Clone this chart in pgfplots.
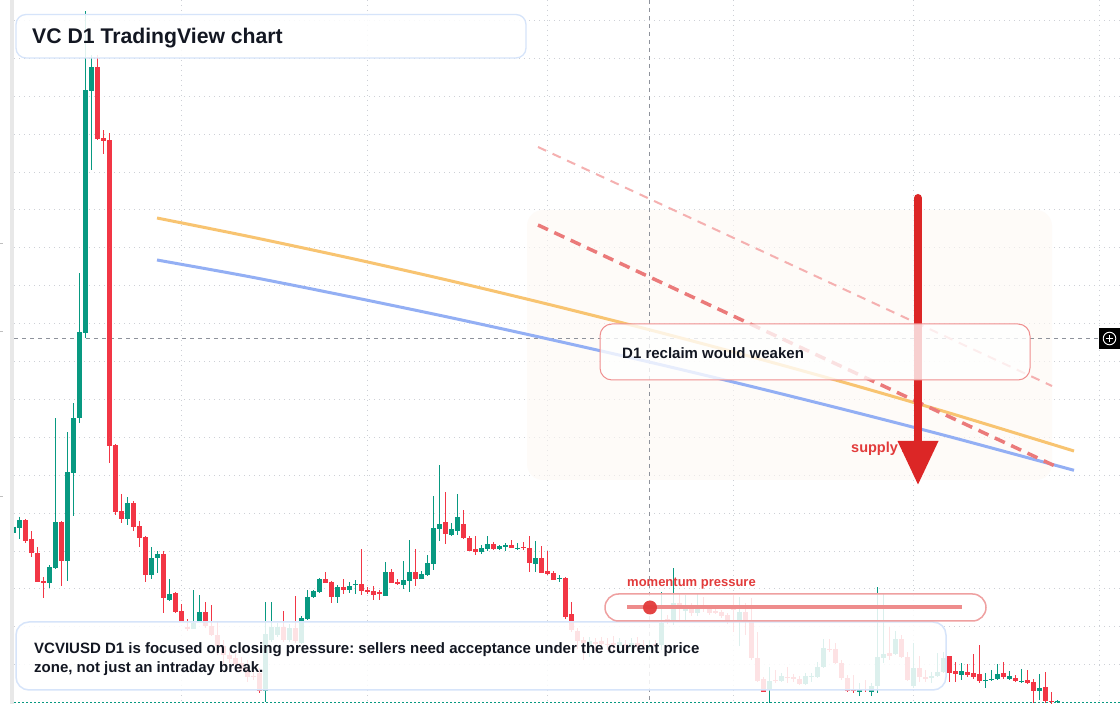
\documentclass[border=0pt]{standalone}
\usepackage{fontspec}
\setmainfont{Liberation Sans}
\usepackage{pgfplots}
\pgfplotsset{compat=1.18}
\usepackage{pgfplotstable}
\frenchspacing
\definecolor{tvgreen}{HTML}{089981}
\definecolor{tvred}{HTML}{F23645}
\definecolor{ink}{HTML}{131722}
\definecolor{gridc}{HTML}{CDD0D6}
\definecolor{crossc}{HTML}{8E929B}
\definecolor{orangeline}{HTML}{F8C471}
\definecolor{blueline}{HTML}{93AFF4}
\definecolor{dashred}{HTML}{EB7A7A}
\definecolor{dashlight}{HTML}{F5B0B0}
\definecolor{arrowred}{HTML}{DC2626}
\definecolor{labelred}{HTML}{E23B3B}
\definecolor{pillborder}{HTML}{EFA0A0}
\definecolor{pillline}{HTML}{EE8C8C}
\definecolor{boxred}{HTML}{EF8F8F}
\definecolor{boxblue}{HTML}{D6E4FA}
\definecolor{zonefill}{HTML}{FEF9F4}

% candles: pixel-row values (smaller = higher price)
\pgfplotstableread{
i o h l c
0 532.7 525 534 526.7
1 527.7 516.7 538.7 520
2 520 519 543 541
3 539 531 557 553
4 553 547 582 582
5 581 577 598 583
6 583 565 588 567
7 568 418 569 522
8 522 521 586 561
9 561 432 581 472
10 473 403 516 418
11 418 273 423 332
12 333 11 338 90
13 90.7 55 170 67
14 67 55 140 139
15 138 130 154 141
16 140 133 463 446
17 445 444 515 512
18 511 494 523 519
19 519 497 525 503
20 503 501 531 527
21 526 521 547 538
22 537 536 582 575
23 575 547 579 558
24 558 551 573 554
25 554 551 613 598
26 600 579 601 594
27 593 592 613 612
28 611 604 622 621
29 627 619 631 628.5
30 628.7 590 629 622.7
31 621.7 595 622 612
32 612 602 628 626
33 626 605 636 635
34 635 621 655 646
35 646 640 665 655
36 655 651 663 659
37 658 653 667 664
38 663 657 672 669
39 668 660 682 677
40 676 672 680 677
41 673 668 693 690.5
42 690.5 602 702 634
43 640 602 642 627
44 635 623 637 627
45 627 611 642 640
46 640 624 642 628
47 628 596 643 641
48 643 616 644 618
49 619 590 620 597
50 597 590 598 591
51 592 578 593 579
52 579 572 583 583
53 582 581 603 597
54 597 585 603 587
55 587 579 594 590
56 590 582 593 586
57 585 580 594 584
58 584 549 595 591
59 590 587 594 592
60 591 586 600 595
61 592 590 600 593.5
62 596 562 596 572
63 572 569 583 583
64 582 579 585 584
65 585 561 589 580
66 581 540 592 572
67 572 549 586 579
68 579 571 579 574
69 575 555 576 563
70 564 496 570 528
71 529 465 541 524
72 522 492 544 534
73 535 523 536 529
74 531 494 535 517
75 524 510 539 538
76 538 536 551 551
77 549 536 555 552
78 552 545 554 548
79 549 536 551 544
80 544 542 550 549
81 549 545 550 546
82 547 543 551 545
83 545 540 548 548
84 548 543 550 547.5
85 547 542 550 548
86 548 536 572 563
87 564 541 572 558
88 558 546 573 573
89 571 551 575 574
90 573 571 580 580
91 578.5 575 582 577.5
92 578 577 619 617
93 614 602 632 630
94 631 628 649 641
95 640 637 660 643
96 645 637 657 641
97 642 638 652 644
98 641 637 650 644
99 644 638 650 645
100 643 636 652 645
101 646 638 652 642
102 644 640 650 646
103 647 638 652 643
104 643 637 650 646
105 645 640 650 646
106 646 641 651 645
107 644 640 648 646
108 645 592 650 623
109 619 615 624 622
110 622 568 625 603
111 603 593 620 608
112 611 595 620 608
113 606 603 616 613
114 613 593 616 605
115 605 597 612 609
116 608 606 615 613
117 611 609 614 613
118 612 610 618 616
119 615 613 624 622
120 607 595 632 610
121 622 597 646 612
122 612 603 635 622
123 620 598 660 658
124 658 632 682 681
125 679 677 692 691.5
126 690 667 703 681
127 680 670 683 681
128 681 673 682 676
129 677 667 683 678
130 677 674 682 679
131 679 676 685 684
132 684 673 685 676
133 676.5 673 682 675.5
134 677 662 678 667
135 667 639 668 648
136 649 639 652 650
137 649 643 664 663
138 663 660 680 678
139 678 675 692 691
140 690 675 693 691
141 692 683 696 690
142 689 680 692 690
143 692 683 696 686
144 686 587 693 657
145 658 593 663 654
146 653 627 660 656
147 654 631 655 639
148 639 635 658 657
149 657 652 681 680
150 686 643 688 668
151 668 656 682 677
152 677 670 682 678.5
153 678 672 683 676
154 676 653 677 672
155 672 652 673 658
156 656 656 682 673
157 671 662 682 674
158 675 663 680 671
159 672 664 677 675
160 673 654 679 677
161 674 645 683 681
162 680.5 673 688 680
163 680 670 681 679
164 679 664 680 674
165 673 662 679 677
166 679 671 680 676
167 678 675 682 681
168 681 669 683 680.5
169 680 670 684 683
170 682 679 703 691
171 691 674 700 688
172 687 672 703 701
173 701 692 704 702
174 702 700 703 701
}\candles

\begin{document}
\begin{tikzpicture}
% ---------- background layer (pixel coordinates) ----------
\begin{scope}[yshift=704pt, x=1pt, y=-1pt]
  \fill[white] (0,0) rectangle (1120,704);
  \foreach \yy in {20.5,58.4,...,666}
    \draw[gridc, line width=1pt, dash pattern=on 1.3pt off 3.7pt] (14,\yy) -- (1120,\yy);
  \foreach \xx in {181.6,367.6,547.6,733.6,913.6,1099.6}
    \draw[gridc, line width=1pt, dash pattern=on 1.3pt off 3.7pt] (\xx,0) -- (\xx,704);
  \fill[zonefill, fill opacity=0.6, rounded corners=16pt] (527,210) rectangle (1052,480);
  \draw[crossc, line width=0.9pt, dash pattern=on 4pt off 4pt] (649.5,0) -- (649.5,704);
  \draw[crossc, line width=0.9pt, dash pattern=on 4pt off 4pt] (14,338) -- (1100,338);
  \draw[tvgreen, line width=1.6pt, dash pattern=on 1.5pt off 2.5pt] (14,702.5) -- (1120,702.5);
\end{scope}

% ---------- data axis ----------
\begin{axis}[
  at={(0,0)}, anchor=south west,
  width=1120pt, height=704pt, scale only axis,
  xmin=-2.2667, xmax=184.4,
  ymin=0, ymax=704, y dir=reverse,
  hide axis, clip=true,
]
% wicks
\addplot[draw=none, restrict expr to domain={\thisrow{o}-\thisrow{c}}{0.001:1000},
  error bars/.cd, y dir=plus, y explicit, error mark=none,
  error bar style={line width=1pt, draw=tvgreen}]
  table[x=i, y=h, y error expr=\thisrow{l}-\thisrow{h}] {\candles};
\addplot[draw=none, restrict expr to domain={\thisrow{o}-\thisrow{c}}{-1000:0},
  error bars/.cd, y dir=plus, y explicit, error mark=none,
  error bar style={line width=1pt, draw=tvred}]
  table[x=i, y=h, y error expr=\thisrow{l}-\thisrow{h}] {\candles};
% bodies
\addplot[draw=none, restrict expr to domain={\thisrow{o}-\thisrow{c}}{0.001:1000},
  error bars/.cd, y dir=plus, y explicit, error mark=none,
  error bar style={line width=4.6pt, draw=tvgreen}]
  table[x=i, y=c, y error expr={max(\thisrow{o}-\thisrow{c},1.3)}] {\candles};
\addplot[draw=none, restrict expr to domain={\thisrow{o}-\thisrow{c}}{-1000:0},
  error bars/.cd, y dir=plus, y explicit, error mark=none,
  error bar style={line width=4.6pt, draw=tvred}]
  table[x=i, y=o, y error expr={max(\thisrow{c}-\thisrow{o},1.3)}] {\candles};
% moving-average style curves
\addplot[orangeline, line width=3pt, smooth] coordinates {
  (23.9,218) (39.4,236.7) (56.07,258.1) (72.73,280.7) (89.4,304.7)
  (106.07,329.9) (122.73,356.4) (139.4,384.1) (156.07,413.2) (176.73,451)};
\addplot[blueline, line width=3pt, smooth] coordinates {
  (23.9,260) (39.4,276.8) (56.07,296.7) (72.73,317.5) (89.4,339.4)
  (106.07,362.2) (122.73,386.1) (139.4,411) (156.07,436.8) (176.73,470.3)};
% dashed guides
\addplot[dashlight, line width=2pt, dash pattern=on 9pt off 7pt] coordinates {(87.4,147) (173.07,386)};
\addplot[dashred, line width=3.5pt, dash pattern=on 11pt off 7pt] coordinates {(87.4,225) (173.57,466)};
\end{axis}

% ---------- overlays (pixel coordinates) ----------
\begin{scope}[yshift=704pt, x=1pt, y=-1pt]
  % left strip
  \fill[white] (0,0) rectangle (10,704);
  \fill[black!9] (10,0) rectangle (14,704);
  \foreach \yy in {243,331,496} \draw[black!25, line width=0.8pt] (0,\yy) -- (3,\yy);
  % supply zone label and arrow
  \node[anchor=base west, inner sep=0, text=labelred, font=\fontsize{14.5}{16}\selectfont\bfseries] at (851,452.5) {supply zone};
  \draw[arrowred, line width=8pt, line cap=round] (918,198) -- (918,446);
  \fill[arrowred] (897.5,441) -- (938.5,441) -- (918,484.5) -- cycle;
  % D1 box
  \draw[rounded corners=12pt, fill=white, fill opacity=0.78, draw=boxred, line width=1pt] (600,324) rectangle (1030,380);
  \node[anchor=base west, inner sep=0, text=ink, font=\fontsize{15}{17}\selectfont\bfseries] at (622,358.8) {D1 reclaim would weaken};
  % title box
  \draw[rounded corners=10pt, fill=white, fill opacity=0.88, draw=boxblue, line width=1.3pt] (16,14.5) rectangle (526,58);
  \node[anchor=base west, inner sep=0, text=ink, font=\fontsize{21.2}{24}\selectfont\bfseries] at (32,43.5) {VC D1 TradingView chart};
  % bottom note box
  \draw[rounded corners=13pt, fill=white, fill opacity=0.86, draw=boxblue, line width=1.5pt] (16,622) rectangle (946,690);
  \node[anchor=base west, inner sep=0, text=ink, font=\fontsize{15}{18}\selectfont\bfseries] at (34,654) {VCVIUSD D1 is focused on closing pressure: sellers need acceptance under the current price};
  \node[anchor=base west, inner sep=0, text=ink, font=\fontsize{15}{18}\selectfont\bfseries] at (34,673) {zone, not just an intraday break.};
  % momentum pill
  \draw[rounded corners=13.5pt, fill=white, fill opacity=0.85, draw=pillborder, line width=1.5pt] (605,594) rectangle (986,621);
  \draw[pillline, line width=4pt] (627,607.5) -- (962,607.5);
  \fill[labelred, opacity=0.95] (650,607.5) circle (7pt);
  \node[anchor=base west, inner sep=0, text=labelred, font=\fontsize{13}{15}\selectfont\bfseries] at (627,587) {momentum pressure};
  % crosshair price marker
  \fill[black] (1099,328) rectangle (1120,349);
  \draw[white, line width=0.9pt] (1109.5,338.5) circle (6.3pt);
  \draw[white, line width=0.9pt] (1105.8,338.5) -- (1113.2,338.5) (1109.5,334.8) -- (1109.5,342.2);
\end{scope}
\pgfresetboundingbox
\useasboundingbox (0,0) rectangle (1120pt,704pt);
\end{tikzpicture}
\end{document}
